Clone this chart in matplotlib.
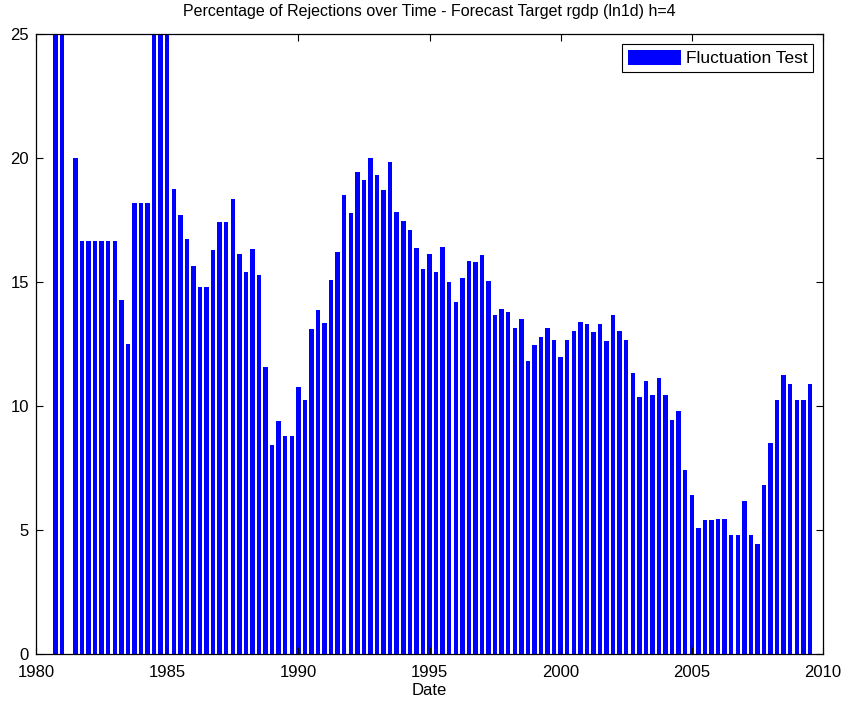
"""
Percentage of Rejections over Time - bar chart (MATLAB look)
"""
import numpy as np
import pandas as pd
import matplotlib
matplotlib.use('Agg')
import matplotlib.pyplot as plt

# 四半期 (1980Q4 - 2009Q3)
quarters = pd.period_range('1980Q4', '2009Q3', freq='Q')

# 棄却率 (%)  上限25を超える棒はクリップされて見えない
rejections = [
    28.0, 28.0, 0.0, 20.0, 16.67, 16.67, 16.67, 16.67, 16.67, 16.67,
    14.29, 12.5, 18.18, 18.18, 18.18, 28.0, 28.0, 28.0, 18.75, 17.69,
    16.75, 15.63, 14.8, 14.8, 16.3, 17.4, 17.4, 18.36, 16.12, 15.41,
    16.31, 15.27, 11.58, 8.44, 9.38, 8.77, 8.77, 10.75, 10.25, 13.11,
    13.87, 13.34, 15.09, 16.19, 18.51, 17.77, 19.42, 19.13, 19.98, 19.31,
    18.72, 19.85, 17.81, 17.45, 17.09, 16.35, 15.52, 16.12, 15.41, 16.42,
    15.0, 14.19, 15.15, 15.84, 15.8, 16.08, 15.04, 13.66, 13.9, 13.8,
    13.16, 13.5, 11.83, 12.46, 12.8, 13.16, 12.67, 11.99, 12.67, 13.01,
    13.38, 13.32, 12.97, 13.32, 12.64, 13.66, 13.04, 12.67, 11.34, 10.35,
    11.02, 10.44, 11.13, 10.44, 9.44, 9.78, 7.43, 6.41, 5.07, 5.42,
    5.42, 5.46, 5.46, 4.78, 4.78, 6.15, 4.78, 4.45, 6.82, 8.51,
    10.23, 11.23, 10.9, 10.23, 10.23, 10.9,
]

xticks = [1980, 1985, 1990, 1995, 2000, 2005, 2010]
yticks = [0, 5, 10, 15, 20, 25]

plt.rcParams['font.family'] = ['Liberation Sans', 'DejaVu Sans']

x = np.array([q.year + (q.quarter - 1) / 4 for q in quarters])

fig = plt.figure(figsize=(8.44, 7.02), dpi=100)
ax = fig.add_axes([0.0427, 0.0684, 0.9324, 0.8832])

ax.bar(x, rejections, width=0.17, color='#0000ff', edgecolor='none',
       label='Fluctuation Test')

ax.set_xlim(1980, 2010)
ax.set_ylim(0, 25)
ax.set_xticks(xticks)
ax.set_yticks(yticks)
ax.tick_params(direction='in', top=True, right=True, length=5, width=0.8,
               labelsize=12)
ax.tick_params(axis='x', pad=8)
ax.tick_params(axis='y', pad=5)
for s in ax.spines.values():
    s.set_linewidth(0.9)

ax.set_xlabel('Date', fontsize=12, labelpad=2)
ax.set_title('Percentage of Rejections over Time - Forecast Target rgdp (ln1d) h=4',
             fontsize=11.5, pad=13)

leg = ax.legend(loc='upper right', fontsize=12.5, fancybox=False, framealpha=1,
                edgecolor='black', handlelength=3.0, handleheight=1.0,
                handletextpad=0.3, borderaxespad=0.55, borderpad=0.35)
leg.get_frame().set_linewidth(0.8)

plt.savefig('out.png', dpi=100)
